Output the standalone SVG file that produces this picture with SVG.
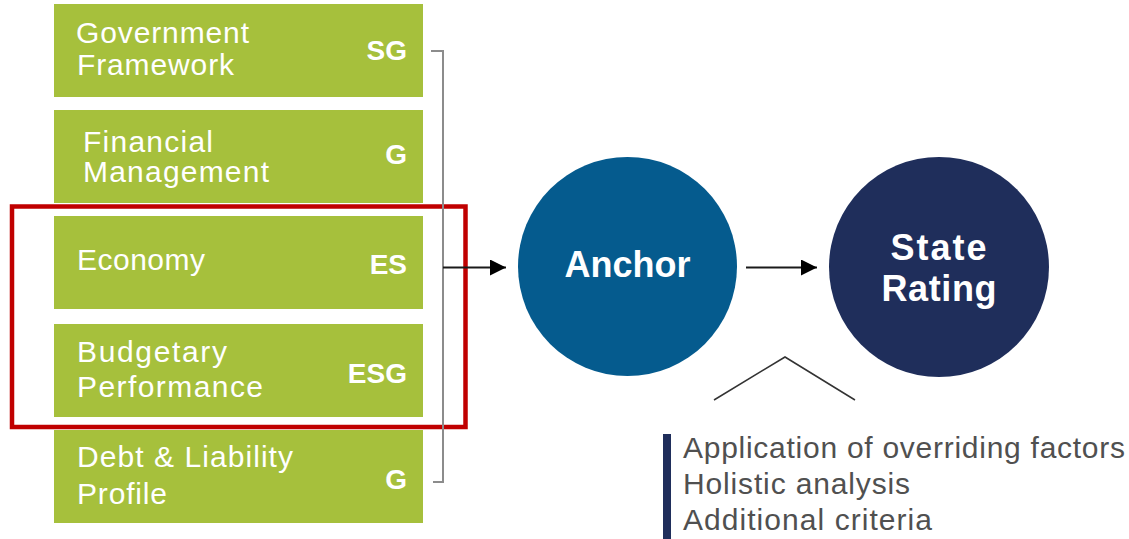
<svg xmlns="http://www.w3.org/2000/svg" width="1129" height="539" viewBox="0 0 1129 539">
  <style>
    .box { fill: #a6c03c; }
    .lbl { font-family: "Liberation Sans", Arial, sans-serif; font-size: 30px; fill: #ffffff; }
    .code { font-family: "Liberation Sans", Arial, sans-serif; font-size: 28px; font-weight: bold; fill: #ffffff; text-anchor: end; }
    .ctext { font-family: "Liberation Sans", Arial, sans-serif; font-size: 36px; font-weight: bold; fill: #ffffff; text-anchor: middle; }
    .note { font-family: "Liberation Sans", Arial, sans-serif; font-size: 30px; fill: #505050; }
    .conn { fill: none; stroke: #1a1a1a; stroke-width: 2; }
    .bracket { fill: none; stroke: #8c8c8c; stroke-width: 2; }
  </style>
  <defs>
    <marker id="arrow" viewBox="0 0 16 16" refX="16" refY="8" markerWidth="16" markerHeight="16" markerUnits="userSpaceOnUse" orient="auto">
      <path d="M0,0 L16,8 L0,16 z" fill="#000000"/>
    </marker>
  </defs>
  <rect width="1129" height="539" fill="#ffffff"/>

  <g id="node-government-framework">
    <rect class="box" x="54" y="4" width="369" height="93"/>
    <text class="lbl" x="76" y="43" textLength="173" lengthAdjust="spacing">Government</text>
    <text class="lbl" x="77" y="75" textLength="157" lengthAdjust="spacing">Framework</text>
    <text class="code" x="407" y="60">SG</text>
  </g>
  <g id="node-financial-management">
    <rect class="box" x="54" y="110" width="369" height="93"/>
    <text class="lbl" x="83" y="152" textLength="130" lengthAdjust="spacing">Financial</text>
    <text class="lbl" x="83" y="182" textLength="186" lengthAdjust="spacing">Management</text>
    <text class="code" x="407" y="164">G</text>
  </g>
  <g id="node-economy">
    <rect class="box" x="54" y="216" width="369" height="93"/>
    <text class="lbl" x="77" y="270" textLength="128" lengthAdjust="spacing">Economy</text>
    <text class="code" x="407" y="274">ES</text>
  </g>
  <g id="node-budgetary-performance">
    <rect class="box" x="54" y="324" width="369" height="93"/>
    <text class="lbl" x="77" y="362" textLength="150" lengthAdjust="spacing">Budgetary</text>
    <text class="lbl" x="77" y="397" textLength="186" lengthAdjust="spacing">Performance</text>
    <text class="code" x="407" y="383">ESG</text>
  </g>
  <g id="node-debt-liability">
    <rect class="box" x="54" y="430" width="369" height="93"/>
    <text class="lbl" x="77" y="467" textLength="216" lengthAdjust="spacing">Debt &amp; Liability</text>
    <text class="lbl" x="77" y="504" textLength="90" lengthAdjust="spacing">Profile</text>
    <text class="code" x="407" y="489">G</text>
  </g>

  <g id="highlight">
    <rect x="12" y="206.5" width="453.5" height="220.5" fill="none" stroke="#c00000" stroke-width="4.5"/>
  </g>

  <g id="node-anchor">
    <circle cx="627.5" cy="266.5" r="109.5" fill="#055b8e"/>
    <text class="ctext" x="627.5" y="277">Anchor</text>
  </g>
  <g id="node-state-rating">
    <circle cx="939" cy="267" r="110" fill="#1f2e5b"/>
    <text class="ctext" x="938.5" y="260" textLength="96" lengthAdjust="spacing">State</text>
    <text class="ctext" x="939" y="301" textLength="115" lengthAdjust="spacing">Rating</text>
  </g>

  <g id="connectors">
    <path class="bracket" d="M431,51 H443 V482 H433"/>
    <line class="conn" x1="443" y1="267.5" x2="506" y2="267.5" marker-end="url(#arrow)"/>
    <line class="conn" x1="746" y1="267.5" x2="817" y2="267.5" marker-end="url(#arrow)"/>
    <polyline points="714,400 785,357 855,400" fill="none" stroke="#333333" stroke-width="1.5"/>
  </g>

  <g id="node-notes">
    <rect x="663" y="434" width="8" height="105" fill="#1f2e5b"/>
    <text class="note" x="683" y="458" textLength="442" lengthAdjust="spacing">Application of overriding factors</text>
    <text class="note" x="683" y="494" textLength="227" lengthAdjust="spacing">Holistic analysis</text>
    <text class="note" x="683" y="530" textLength="249" lengthAdjust="spacing">Additional criteria</text>
  </g>
</svg>
